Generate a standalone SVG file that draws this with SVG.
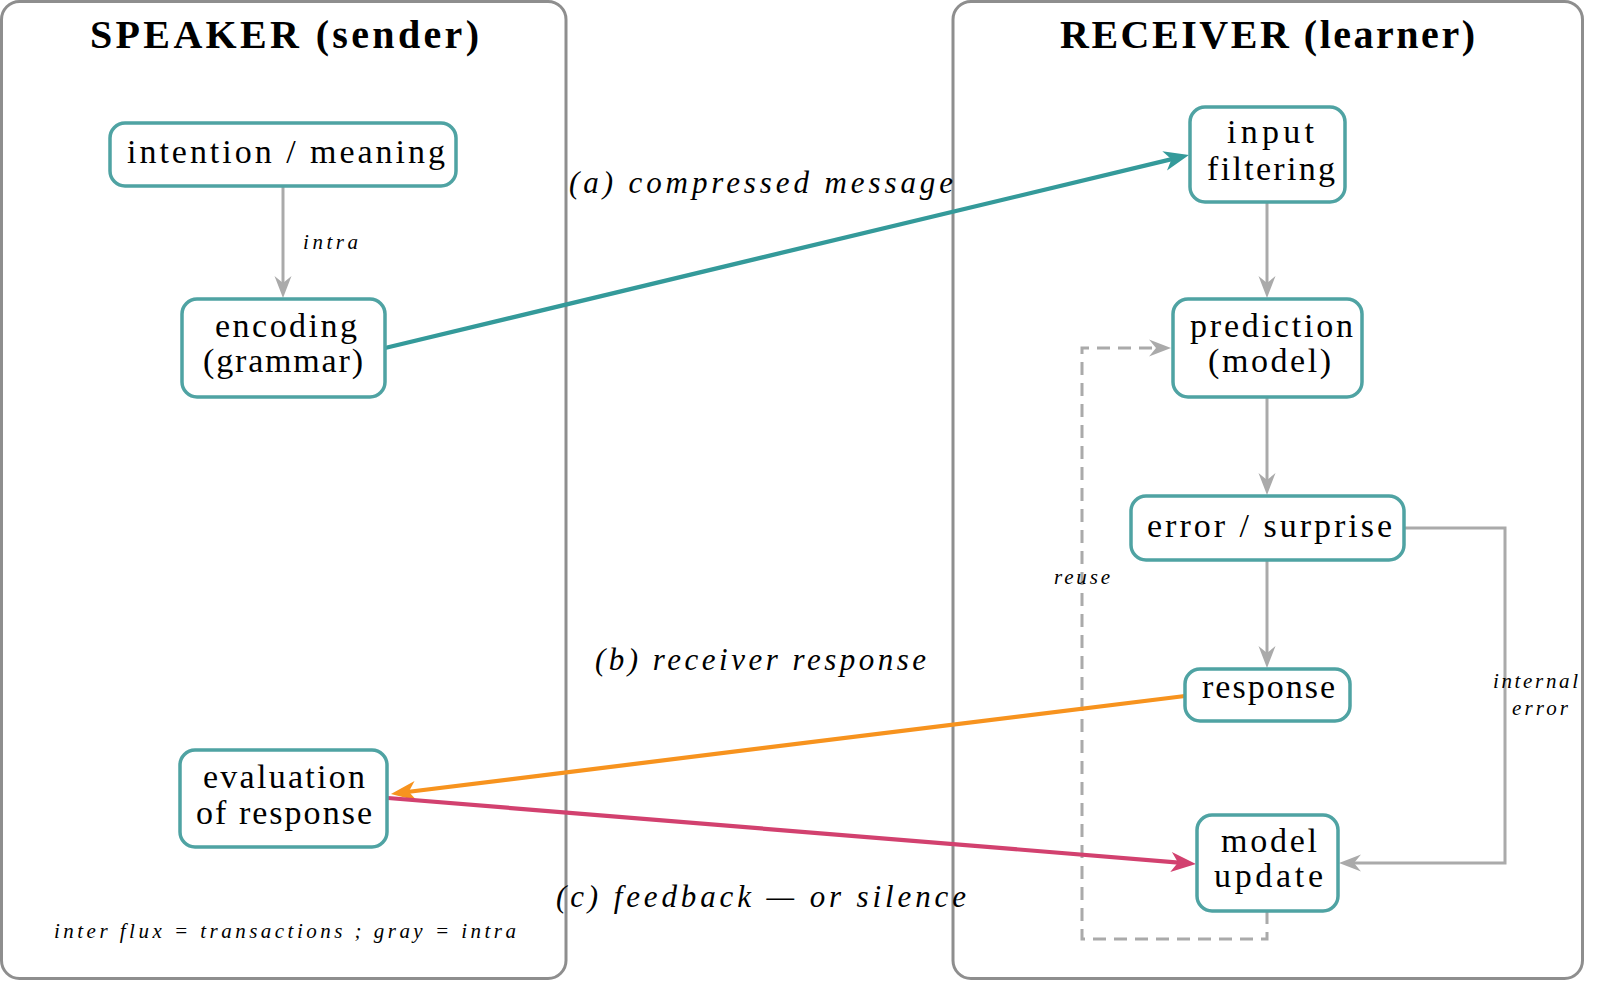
<svg xmlns="http://www.w3.org/2000/svg" width="1600" height="982" viewBox="0 0 1600 982">
<style>
  .panel{fill:#ffffff;stroke:#8e8e8e;stroke-width:3}
  .title{font-family:"Liberation Serif","DejaVu Serif",serif;font-weight:bold;font-size:40px;fill:#000}
  .box{fill:#ffffff;stroke:#4fa3a3;stroke-width:3.5}
  .nt{font-family:"Liberation Serif","DejaVu Serif",serif;font-size:34px;fill:#000}
  .lbl{font-family:"Liberation Serif","DejaVu Serif",serif;font-style:italic;font-size:31px;fill:#000}
  .sm{font-family:"Liberation Serif","DejaVu Serif",serif;font-style:italic;font-size:21px;fill:#000}
  .gray{fill:none;stroke:#aaaaaa;stroke-width:3}
  .dash{stroke-dasharray:13 8}
  .teal{fill:none;stroke:#349a9a;stroke-width:4.2}
  .orange{fill:none;stroke:#f7931e;stroke-width:4.2}
  .mag{fill:none;stroke:#d2416f;stroke-width:4.2}
</style>
<defs>
  <marker id="ah-gray" markerUnits="userSpaceOnUse" viewBox="-24 -11 26 22" markerWidth="26" markerHeight="22" refX="-6" refY="0" orient="auto">
    <path d="M0,0 L-22,-8.5 L-15,0 L-22,8.5 Z" fill="#aaaaaa"/>
  </marker>
  <marker id="ah-teal" markerUnits="userSpaceOnUse" viewBox="-28 -12 30 24" markerWidth="30" markerHeight="24" refX="-8" refY="0" orient="auto">
    <path d="M0,0 L-25,-10 L-18,0 L-25,10 Z" fill="#349a9a"/>
  </marker>
  <marker id="ah-orange" markerUnits="userSpaceOnUse" viewBox="-28 -12 30 24" markerWidth="30" markerHeight="24" refX="-8" refY="0" orient="auto">
    <path d="M0,0 L-25,-10 L-18,0 L-25,10 Z" fill="#f7931e"/>
  </marker>
  <marker id="ah-mag" markerUnits="userSpaceOnUse" viewBox="-28 -12 30 24" markerWidth="30" markerHeight="24" refX="-8" refY="0" orient="auto">
    <path d="M0,0 L-25,-10 L-18,0 L-25,10 Z" fill="#d2416f"/>
  </marker>
</defs>

<g id="panel-speaker">
  <rect class="panel" x="1.5" y="1.5" width="564.5" height="977" rx="18"/>
  <text class="title" x="90" y="48" textLength="389" lengthAdjust="spacing">SPEAKER (sender)</text>
</g>
<g id="panel-receiver">
  <rect class="panel" x="953" y="1.5" width="629.5" height="977" rx="18"/>
  <text class="title" x="1060" y="48" textLength="415" lengthAdjust="spacing">RECEIVER (learner)</text>
</g>

<g id="connectors">
  <path class="gray" d="M283,187 V292" marker-end="url(#ah-gray)"/>
  <path class="gray" d="M1267,202 V292" marker-end="url(#ah-gray)"/>
  <path class="gray" d="M1267,397 V489" marker-end="url(#ah-gray)"/>
  <path class="gray" d="M1267,560 V662" marker-end="url(#ah-gray)"/>
  <path class="gray" d="M1404,528 H1505 V863 H1345" marker-end="url(#ah-gray)"/>
  <path class="gray dash" d="M1267,911 V939 H1082 V348 H1165" marker-end="url(#ah-gray)"/>
  <path class="teal" d="M385,348 L1181.2,156.9" marker-end="url(#ah-teal)"/>
  <path class="orange" d="M1185,696 L398.9,793" marker-end="url(#ah-orange)"/>
  <path class="mag" d="M388,798 L1188,863.3" marker-end="url(#ah-mag)"/>
  <text class="sm" x="303" y="249" textLength="55" lengthAdjust="spacing">intra</text>
  <text class="sm" x="1054" y="584" textLength="56" lengthAdjust="spacing">reuse</text>
  <text class="sm" x="1493" y="688" textLength="85" lengthAdjust="spacing">internal</text>
  <text class="sm" x="1512" y="715" textLength="56" lengthAdjust="spacing">error</text>
  <text class="lbl" x="569" y="193" textLength="384" lengthAdjust="spacing">(a) compressed message</text>
  <text class="lbl" x="595" y="670" textLength="331" lengthAdjust="spacing">(b) receiver response</text>
  <text class="lbl" x="556" y="907" textLength="410" lengthAdjust="spacing">(c) feedback — or silence</text>
</g>

<g id="node-intention">
  <rect class="box" x="110" y="123" width="346" height="63" rx="15"/>
  <text class="nt" x="127" y="163" textLength="318" lengthAdjust="spacing">intention / meaning</text>
</g>
<g id="node-encoding">
  <rect class="box" x="182" y="299" width="203" height="98" rx="15"/>
  <text class="nt" x="215" y="337" textLength="142" lengthAdjust="spacing">encoding</text>
  <text class="nt" x="203" y="372" textLength="160" lengthAdjust="spacing">(grammar)</text>
</g>
<g id="node-evaluation">
  <rect class="box" x="180" y="750" width="207" height="97" rx="15"/>
  <text class="nt" x="203" y="788" textLength="162" lengthAdjust="spacing">evaluation</text>
  <text class="nt" x="196" y="824" textLength="176" lengthAdjust="spacing">of response</text>
</g>
<g id="node-input">
  <rect class="box" x="1190" y="107" width="155" height="95" rx="15"/>
  <text class="nt" x="1227" y="143" textLength="87" lengthAdjust="spacing">input</text>
  <text class="nt" x="1207" y="180" textLength="128" lengthAdjust="spacing">filtering</text>
</g>
<g id="node-prediction">
  <rect class="box" x="1173" y="299" width="189" height="98" rx="15"/>
  <text class="nt" x="1190" y="337" textLength="163" lengthAdjust="spacing">prediction</text>
  <text class="nt" x="1208" y="372" textLength="123" lengthAdjust="spacing">(model)</text>
</g>
<g id="node-error">
  <rect class="box" x="1131" y="496" width="273" height="64" rx="15"/>
  <text class="nt" x="1147" y="537" textLength="245" lengthAdjust="spacing">error / surprise</text>
</g>
<g id="node-response">
  <rect class="box" x="1185" y="669" width="165" height="52" rx="15"/>
  <text class="nt" x="1202" y="698" textLength="133" lengthAdjust="spacing">response</text>
</g>
<g id="node-update">
  <rect class="box" x="1197" y="815" width="141" height="96" rx="15"/>
  <text class="nt" x="1221" y="852" textLength="96" lengthAdjust="spacing">model</text>
  <text class="nt" x="1214" y="887" textLength="109" lengthAdjust="spacing">update</text>
</g>

<g id="footer">
  <text class="sm" x="54" y="938" font-size="22" textLength="462" lengthAdjust="spacing">inter flux = transactions ; gray = intra</text>
</g>
</svg>
